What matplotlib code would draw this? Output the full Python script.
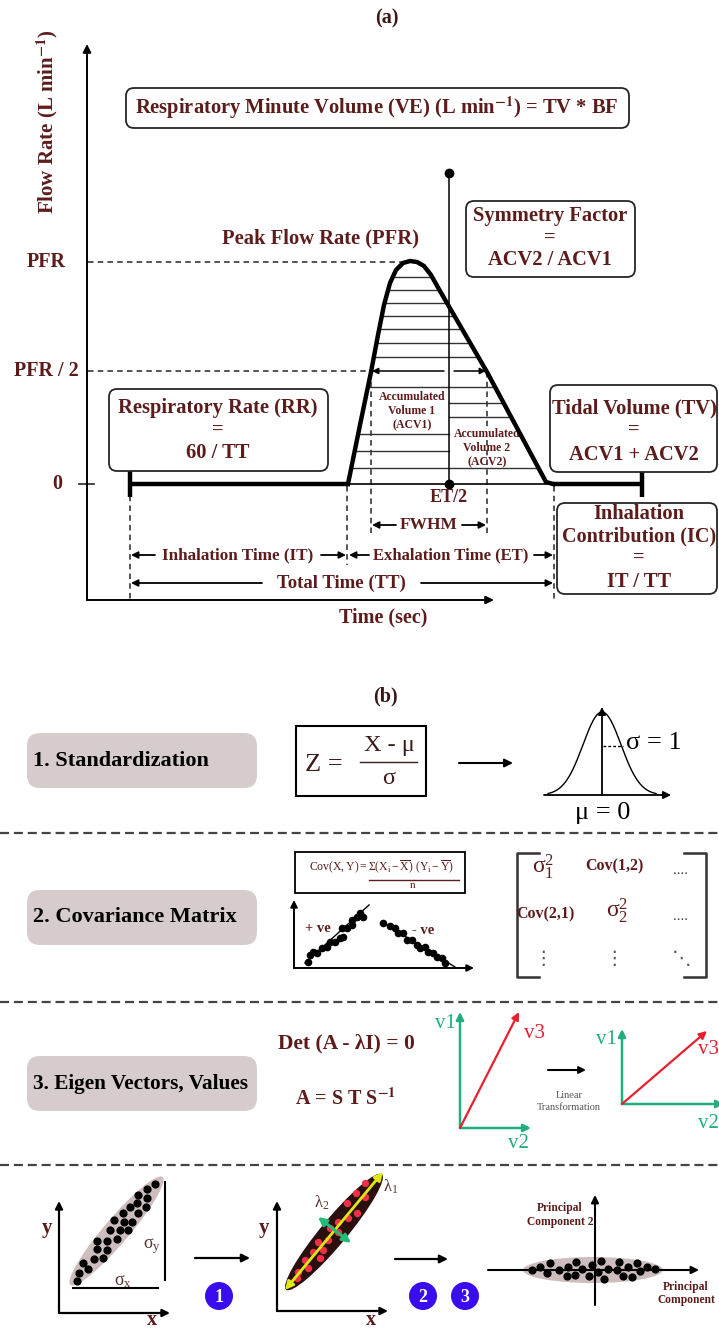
import numpy as np
import matplotlib
matplotlib.use('Agg')
import matplotlib.pyplot as plt
from matplotlib.patches import FancyBboxPatch, Ellipse, Circle, Rectangle

plt.rcParams['font.family'] = ['Liberation Serif', 'DejaVu Serif']
plt.rcParams['mathtext.fontset'] = 'stix'
plt.rcParams['lines.scale_dashes'] = False

# ---------------- data (diagram geometry, pixel space) ----------------
# panel (a): breathing flow curve
flow_x = [348, 360, 371, 378, 384, 390, 396, 403, 410, 417, 424, 431, 440, 487, 546, 553]
flow_y = [484, 425, 372, 335, 305, 283, 270, 263, 261, 262, 266, 275, 291, 372, 482, 484]
hatch_full = [277, 290, 303, 316, 329, 343, 357, 387, 468]
hatch_right = [403, 417]
hatch_left = [434, 451]
level_labels = ['PFR', 'PFR / 2', '0']
level_y = [262, 371, 484]

# panel (b) row 4 scatter clouds
raw_x = [155, 147, 138, 147, 137, 146, 130, 138, 123, 132, 114, 124, 110, 120, 128,
         97, 107, 117, 97, 107, 103, 94, 83, 88, 79, 77]
raw_y = [1184, 1189, 1195, 1198, 1203, 1207, 1207, 1213, 1213, 1222, 1220, 1222, 1230,
         1230, 1230, 1241, 1241, 1239, 1249, 1250, 1258, 1259, 1263, 1269, 1273, 1281]
eig_x = [365, 356, 365, 347, 357, 348, 338, 330, 338, 328, 318, 323, 313, 320, 305, 308, 298, 297]
eig_y = [1183, 1193, 1197, 1203, 1213, 1218, 1222, 1228, 1232, 1240, 1242, 1250, 1252,
         1258, 1260, 1268, 1272, 1278]
pc_x = [532, 540, 547, 550, 559, 567, 568, 575, 576, 582, 589, 592, 598, 601, 604, 608,
        617, 619, 623, 628, 632, 637, 640, 647, 655]
pc_y = [1270, 1267, 1273, 1263, 1270, 1276, 1267, 1275, 1262, 1269, 1276, 1265, 1272,
        1261, 1279, 1269, 1270, 1262, 1276, 1267, 1277, 1263, 1271, 1267, 1269]
# covariance mini scatter
pos_x = [308, 310, 313, 317, 322, 327, 330, 335, 340, 343, 342, 347, 352, 352, 357, 360, 363]
pos_y = [962, 955, 952, 953, 948, 947, 942, 942, 938, 937, 928, 928, 925, 920, 917, 913, 917]
neg_x = [383, 390, 395, 398, 403, 407, 412, 417, 420, 425, 428, 433, 437, 442, 445]
neg_y = [923, 926, 928, 933, 933, 940, 940, 945, 948, 947, 952, 953, 957, 958, 963]

steps = ['1. Standardization', '2. Covariance Matrix', '3. Eigen Vectors, Values']
step_size = [16, 16, 15.3]
step_y = [733, 890, 1056]
separators_y = [833, 1002, 1165]

# ---------------- style ----------------
MAROON = '#5c1c1c'
EDGE = '#262626'
GRAYBOX = '#d6cccc'
GREEN = '#1fae7e'
RED = '#e8202e'
BLUE = '#3a0cf0'

W, H = 719, 1331
fig = plt.figure(figsize=(W / 100, H / 100), dpi=100)
ax = fig.add_axes([0, 0, 1, 1])
ax.set_xlim(0, W)
ax.set_ylim(H, 0)
ax.axis('off')


def arrow(x0, y0, x1, y1, color='black', lw=1.4, ms=11, style='-|>'):
    ax.annotate('', xy=(x1, y1), xytext=(x0, y0), annotation_clip=False,
                arrowprops=dict(arrowstyle=style, color=color, lw=lw,
                                mutation_scale=ms, shrinkA=0, shrinkB=0))


def T(x, y, s, size=13, color=MAROON, weight='bold', **kw):
    ax.text(x, y, s, fontsize=size, color=color, fontweight=weight,
            ha=kw.pop('ha', 'center'), va=kw.pop('va', 'center'), **kw)


def rbox(x, y, w, h, r=8, fc='white', ec=EDGE, lw=1.3):
    ax.add_patch(FancyBboxPatch((x, y), w, h, boxstyle=f'round,pad=0,rounding_size={r}',
                                fc=fc, ec=ec, lw=lw, zorder=2))


DASH = (0, (4, 3))

# ================= panel (a) =================
T(387, 18, '(a)', size=14.5, color='#3a1616')

# axes
arrow(87, 600, 87, 44, lw=1.4, ms=12)
arrow(87, 600, 494, 600, lw=1.4, ms=12)
T(47, 122, r'Flow Rate (L min$^{\mathbf{-1}}$)', size=15, rotation=90)
T(383, 617, 'Time (sec)', size=14.5)

for lab, ly in zip(level_labels, level_y):
    xl = 57 if lab == '0' else 46
    T(xl, ly, lab, size=14.5)
ax.plot([79, 94], [484, 484], color=EDGE, lw=1.2)

# dashed guide lines
ax.plot([88, 408], [262, 262], color=EDGE, lw=1.1, ls=DASH)
ax.plot([88, 371], [371, 371], color=EDGE, lw=1.1, ls=DASH)
for xv, y0, y1 in [(130, 486, 600), (347, 486, 565), (371, 372, 533), (487, 372, 533), (554, 486, 600)]:
    ax.plot([xv, xv], [y0, y1], color=EDGE, lw=1.1, ls=DASH)

# hatching inside the curve
fx = np.array(flow_x, float)
fy = np.array(flow_y, float)
ipk = int(np.argmin(fy))
lx, ly_ = fx[:ipk + 1], fy[:ipk + 1]
rx, ry_ = fx[ipk:], fy[ipk:]


def left_at(y):
    return np.interp(y, ly_[::-1], lx[::-1])


def right_at(y):
    return np.interp(y, ry_, rx)


XMID = 449
for hy in hatch_full:
    ax.plot([left_at(hy), right_at(hy)], [hy, hy], color='#333333', lw=1.0)
for hy in hatch_right:
    ax.plot([XMID, right_at(hy)], [hy, hy], color='#333333', lw=1.0)
for hy in hatch_left:
    ax.plot([left_at(hy), XMID], [hy, hy], color='#333333', lw=1.0)

# baseline
ax.plot([348, 553], [484, 484], color='black', lw=1.2)
ax.plot([130, 348], [484, 484], color='black', lw=3.2, solid_capstyle='butt')
ax.plot([553, 642], [484, 484], color='black', lw=3.2, solid_capstyle='butt')
ax.plot([130, 130], [471, 497], color='black', lw=3.2, solid_capstyle='butt')
ax.plot([642, 642], [471, 497], color='black', lw=3.2, solid_capstyle='butt')

# flow curve
ax.plot(fx, fy, color='black', lw=3.2, solid_joinstyle='round', zorder=4)

# ET/2 vertical line
ax.plot([XMID, XMID], [173, 484], color='black', lw=1.1, zorder=4)
ax.plot([XMID], [173], 'o', color='black', ms=6, zorder=5)
ax.plot([XMID], [484], 'o', color='black', ms=6, zorder=5)
T(449, 497, 'ET/2', size=13)

# half-width arrows
arrow(444, 371, 372, 371, lw=1.1, ms=9)
arrow(454, 371, 486, 371, lw=1.1, ms=9)

T(412, 397, 'Accumulated', size=8.5)
T(412, 411, 'Volume 1', size=8.5)
T(412, 425, '(ACV1)', size=8.5)
T(487, 434, 'Accumulated', size=8.5,
  bbox=dict(fc='white', ec='none', pad=0.3))
T(487, 448, 'Volume 2', size=8.5)
T(487, 462, '(ACV2)', size=8.5)

# FWHM / times
T(429, 525, 'FWHM', size=12.5)
arrow(396, 525, 372, 525, lw=1.3, ms=10)
arrow(462, 525, 486, 525, lw=1.3, ms=10)

T(238, 555, 'Inhalation Time (IT)', size=12.3)
arrow(155, 555, 131, 555, lw=1.3, ms=10)
arrow(321, 555, 346, 555, lw=1.3, ms=10)
T(451, 555, 'Exhalation Time (ET)', size=12.0)
arrow(369, 555, 349, 555, lw=1.3, ms=10)
arrow(534, 555, 553, 555, lw=1.3, ms=10)
T(341, 583, 'Total Time (TT)', size=13.5)
arrow(262, 583, 131, 583, lw=1.3, ms=10)
arrow(421, 583, 553, 583, lw=1.3, ms=10)

# annotation boxes
rbox(126, 88, 503, 40)
T(377, 108, r'Respiratory Minute Volume (VE) (L min$^{\mathbf{-1}}$) = TV * BF', size=14.8, zorder=3)
T(321, 238, 'Peak Flow Rate (PFR)', size=14.8)
rbox(466, 201, 169, 76)
T(550, 216, 'Symmetry Factor', size=14.8, zorder=3)
T(550, 238, '=', size=14.8, zorder=3)
T(550, 260, 'ACV2 / ACV1', size=14.8, zorder=3)
rbox(109, 389, 219, 82)
T(218, 408, 'Respiratory Rate (RR)', size=14.8, zorder=3)
T(218, 430, '=', size=14.8, zorder=3)
T(218, 453, '60 / TT', size=14.8, zorder=3)
rbox(550, 385, 167, 87)
T(634, 408, 'Tidal Volume (TV)', size=14.8, zorder=3)
T(634, 430, '=', size=14.8, zorder=3)
T(634, 455, 'ACV1 + ACV2', size=14.8, zorder=3)
rbox(557, 503, 160, 91)
T(639, 514, 'Inhalation', size=14.8, zorder=3)
T(639, 536, 'Contribution (IC)', size=14.5, zorder=3)
T(639, 558, '=', size=14.8, zorder=3)
T(639, 582, 'IT / TT', size=14.8, zorder=3)

# ================= panel (b) =================
T(385, 696, '(b)', size=14.5, color='#3a1616')

for s, fs, sy in zip(steps, step_size, step_y):
    rbox(27, sy, 230, 55, r=13, fc=GRAYBOX, ec='none')
    T(33, sy + 27.5, s, size=fs, color='black', ha='left', zorder=3)

for sy in separators_y:
    ax.plot([0, W], [sy, sy], color='#444444', lw=1.6, ls=(0, (6.5, 3.5)))

# --- row 1: standardization
ax.add_patch(Rectangle((296, 726), 130, 70, fc='white', ec='black', lw=1.5))
T(324, 765, 'Z =', size=19, color='#3a1a1a', weight='normal')
T(389, 745, 'X - μ', size=17.5, color='#3a1a1a', weight='normal')
ax.plot([360, 417], [762, 762], color='#3a1a1a', lw=1.0)
T(389, 779, 'σ', size=17.5, color='#3a1a1a', weight='normal')
arrow(459, 763, 513, 763, lw=1.5, ms=12)

bell_mu, bell_sd, bell_h = 602, 19, 83
bx = np.linspace(548, 656, 200)
by = 795 - bell_h * np.exp(-(bx - bell_mu) ** 2 / (2 * bell_sd ** 2))
ax.plot(bx, by, color='black', lw=1.0)
arrow(544, 795, 671, 795, lw=1.3, ms=11)
arrow(602, 795, 602, 707, lw=1.3, ms=11)
ax.plot([603, 623], [746, 746], color='black', lw=1.0, ls=(0, (2, 1.5)))
T(626, 743, 'σ = 1', size=19, color='black', weight='normal', ha='left')
T(603, 813, 'μ = 0', size=19, color='black', weight='normal')

# --- row 2: covariance
ax.add_patch(Rectangle((295, 852), 170, 41, fc='white', ec='black', lw=1.3))
T(382, 867, r'$\mathregular{Cov(X,Y) = Σ(X_i - \overline{X})\ (Y_i - \overline{Y})}$',
  size=8.5, weight='normal')
ax.plot([369, 459], [880, 880], color=MAROON, lw=1.0)
T(413, 886, 'n', size=8, weight='normal')
arrow(294, 968, 294, 900, lw=1.4, ms=10)
arrow(294, 968, 474, 968, lw=1.4, ms=10)
ax.plot([305, 369], [963, 905], color='black', lw=1.0)
ax.plot([382, 455], [922, 967], color='black', lw=1.0)
ax.scatter(pos_x, pos_y, s=20, color='black', zorder=3)
ax.scatter(neg_x, neg_y, s=20, color='black', zorder=3)
T(318, 929, '+ ve', size=10.5)
T(423, 930, '- ve', size=10.5)

# matrix
for xb, xs in [(517, 539), (706, 684)]:
    ax.plot([xs, xb, xb, xs], [853, 853, 977, 977], color='#333333', lw=1.8)
T(543, 867, r'$\mathregular{σ^2_1}$', size=17, weight='normal')
T(614, 866, 'Cov(1,2)', size=11.5)
T(680, 870, '....', size=11, color='#444444', weight='normal')
T(545, 914, 'Cov(2,1)', size=11.5)
T(617, 911, r'$\mathregular{σ^2_2}$', size=17, weight='normal')
T(680, 917, '....', size=11, color='#444444', weight='normal')
for xd in [543, 614]:
    T(xd, 958, '⋮', size=14, color='#555555', weight='normal', family=['DejaVu Sans'])
T(682, 958, '⋱', size=14, color='#555555', weight='normal', family=['DejaVu Sans'])

# --- row 3: eigen
T(346, 1043, 'Det (A - λI) = 0', size=15.5)
T(346, 1099, r'A = S T S$^{\mathbf{-1}}$', size=14.5)
arrow(460, 1128, 460, 1012, color=GREEN, lw=1.8, ms=11)
arrow(460, 1128, 531, 1128, color=GREEN, lw=1.8, ms=11)
arrow(460, 1128, 519, 1012, color=RED, lw=1.6, ms=11)
T(445, 1024, 'v1', size=15, color=GREEN, weight='normal')
T(535, 1034, 'v3', size=15, color=RED, weight='normal')
T(518, 1144, 'v2', size=15, color=GREEN, weight='normal')
arrow(548, 1070, 586, 1070, lw=1.5, ms=10)
T(569, 1096, 'Linear', size=7.5, color='#555555', weight='normal')
T(569, 1108, 'Transformation', size=7.5, color='#555555', weight='normal')
arrow(622, 1104, 622, 1029, color=GREEN, lw=1.8, ms=11)
arrow(622, 1104, 724, 1104, color=GREEN, lw=1.8, ms=11)
arrow(622, 1104, 707, 1031, color=RED, lw=1.6, ms=11)
T(606, 1040, 'v1', size=15, color=GREEN, weight='normal')
T(708, 1050, 'v3', size=15, color=RED, weight='normal')
T(708, 1123, 'v2', size=15, color=GREEN, weight='normal')

# --- row 4: PCA illustration
# panel 1
arrow(59, 1313, 59, 1201, lw=1.6, ms=11)
arrow(59, 1313, 170, 1313, lw=1.6, ms=11)
T(47, 1228, 'y', size=15)
T(152, 1320, 'x', size=14.5)
ax.add_patch(Ellipse((116.5, 1231), 142, 25, angle=-49.5, fc='#cdbdbd', ec='none'))
ax.scatter(raw_x, raw_y, s=24, color='black', zorder=3)
ax.plot([73, 158], [1288, 1288], color='black', lw=1.5)
ax.plot([165, 165], [1182, 1280], color='black', lw=1.5)
T(123, 1281, r'$\mathregular{σ_x}$', size=13, color='#5a3434', weight='normal')
T(152, 1246, r'$\mathregular{σ_y}$', size=13, color='#5a3434', weight='normal')
arrow(195, 1258, 250, 1258, lw=1.6, ms=12)

# panel 2
arrow(277, 1311, 277, 1201, lw=1.6, ms=11)
arrow(277, 1311, 388, 1311, lw=1.6, ms=11)
T(264, 1228, 'y', size=15)
T(371, 1320, 'x', size=14.5)
ax.add_patch(Ellipse((334, 1232), 150, 26, angle=-50.3, fc='#2a0f0f', ec='none'))
ax.scatter(eig_x, eig_y, s=18, color='#f03048', zorder=3)
arrow(285, 1290, 383, 1172, color='#dfe812', lw=2.0, ms=12, style='<|-|>')
arrow(318, 1217, 351, 1243, color='#22bb77', lw=2.2, ms=12, style='<|-|>')
T(322, 1203, r'$\mathregular{λ_2}$', size=12, color='#5a3434', weight='normal')
T(391, 1187, r'$\mathregular{λ_1}$', size=12, color='#5a3434', weight='normal')
arrow(395, 1259, 448, 1259, lw=1.6, ms=12)

for num, cx in [('1', 219), ('2', 423), ('3', 465)]:
    ax.add_patch(Circle((cx, 1296), 14, fc=BLUE, ec='none', zorder=3))
    T(cx, 1297, num, size=13, color='white', zorder=4)

# panel 3
ax.add_patch(Ellipse((593, 1270), 140, 26, fc='#cdbdbd', ec='none'))
arrow(488, 1270, 699, 1270, lw=1.5, ms=11)
arrow(595, 1305, 595, 1195, lw=1.5, ms=11)
ax.scatter(pc_x, pc_y, s=24, color='black', zorder=3)
T(560, 1208, 'Principal', size=8.3)
T(560, 1222, 'Component 2', size=8.3)
T(686, 1287, 'Principal', size=8.3)
T(686, 1300, 'Component', size=8.3)

fig.savefig('out.png', dpi=100)
